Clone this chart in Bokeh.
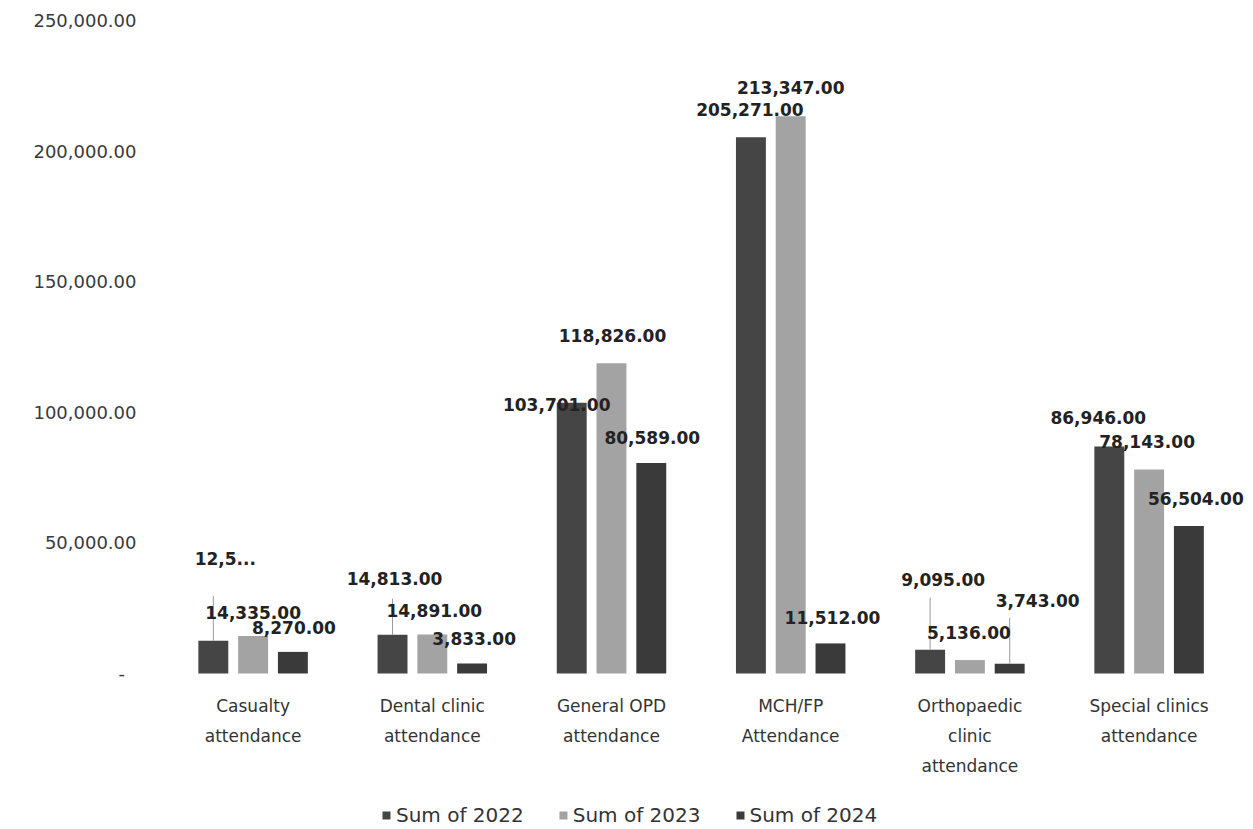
from bokeh.plotting import figure
from bokeh.models import ColumnDataSource, Range1d, Legend, LegendItem, FixedTicker, NumeralTickFormatter
from bokeh.core.properties import value
from bokeh.embed import file_html
from bokeh.resources import INLINE

# ---------------- data ----------------
categories = ["Casualty attendance", "Dental clinic attendance", "General OPD attendance",
              "MCH/FP Attendance", "Orthopaedic clinic attendance", "Special clinics attendance"]
category_label_lines = [["Casualty", "attendance"], ["Dental clinic", "attendance"],
                        ["General OPD", "attendance"], ["MCH/FP", "Attendance"],
                        ["Orthopaedic", "clinic", "attendance"], ["Special clinics", "attendance"]]
series_names = ["Sum of 2022", "Sum of 2023", "Sum of 2024"]
sum_2022 = [12500, 14813, 103701, 205271, 9095, 86946]
sum_2023 = [14335, 14891, 118826, 213347, 5136, 78143]
sum_2024 = [8270, 3833, 80589, 11512, 3743, 56504]
y_ticks = [0, 50000, 100000, 150000, 200000, 250000]
truncated_labels = {(0, 0): "12,5..."}   # (series, category) label shown truncated in the original

# ---------------- layout / style ----------------
Y_MAX = 250000
PLOT_H = 653            # pixels from 0 to Y_MAX
CAT_PX = 179.2          # pixels per category slot
FRAME_W, FRAME_H = 1090, 809
units_per_px = Y_MAX / PLOT_H
Y_MIN = -(FRAME_H - PLOT_H) * units_per_px
X_MAX = FRAME_W / CAT_PX
colors = ["#454545", "#a3a3a3", "#3a3a3a"]
dodges = [-0.222, 0.0, 0.222]
BAR_W = 0.167
# label offsets in pixels: (dx, up)
label_offsets = [
    [(12, 82), (2, 56), (-15, -2), (-1, 28), (13, 70), (-11, 29)],
    [(0, 24), (2, 24), (1, 28), (0, 29), (-1, 28), (-2, 28)],
    [(1, 24), (2, 25), (1, 26), (2, 26), (28, 63), (7, 27)],
]
# leader lines (pixels above bar top), 0 = none
leader_px = [
    [45, 36, 0, 0, 52, 0],
    [0, 0, 0, 0, 0, 0],
    [0, 0, 0, 0, 46, 0],
]
CAT_LINE_FIRST, CAT_LINE_STEP = 32, 30

cat_x = [i + 0.5 for i in range(len(categories))]

p = figure(x_range=Range1d(0, X_MAX), y_range=Range1d(Y_MIN, Y_MAX),
           frame_width=FRAME_W, frame_height=FRAME_H,
           min_border_left=163, min_border_right=0, min_border_top=20, min_border_bottom=0,
           output_backend="svg", toolbar_location=None)
p.outline_line_color = None
p.xgrid.grid_line_color = None
p.ygrid.grid_line_color = None
p.background_fill_color = "white"
p.border_fill_color = "white"
p.xaxis.visible = False

series = [sum_2022, sum_2023, sum_2024]
legend_items = []
sources = []
for s, (vals, name) in enumerate(zip(series, series_names)):
    texts = [truncated_labels.get((s, c), f"{v:,.2f}") for c, v in enumerate(vals)]
    src = ColumnDataSource(dict(
        x=[cx + dodges[s] for cx in cat_x], val=vals, txt=texts,
        xo=[o[0] for o in label_offsets[s]],
        yo=[-o[1] for o in label_offsets[s]],
    ))
    sources.append(src)
    r = p.vbar(x="x", top="val", width=BAR_W, source=src, fill_color=colors[s], line_color=None)
    legend_items.append(LegendItem(label=name, renderers=[r]))

for s, vals in enumerate(series):
    lx, lv, le = [], [], []
    for c, v in enumerate(vals):
        if leader_px[s][c] > 0:
            lx.append(cat_x[c] + dodges[s]); lv.append(v); le.append(v + leader_px[s][c] * units_per_px)
    if lx:
        lsrc = ColumnDataSource(dict(x=lx, y0=lv, y1=le))
        p.segment(x0="x", x1="x", y0="y0", y1="y1", source=lsrc, line_color="#9a9a9a", line_width=1)

for src in sources:
    p.text(x="x", y="val", text="txt", source=src,
           x_offset="xo", y_offset="yo", text_align="center", text_baseline="middle",
           text_font=value("DejaVu Sans"), text_font_style="bold", text_font_size="17px",
           text_color="#222222")

# category labels (one text per line)
cx_, ct, co, cz = [], [], [], []
for c, lines in enumerate(category_label_lines):
    for i, ln in enumerate(lines):
        cx_.append(cat_x[c]); ct.append(ln); co.append(CAT_LINE_FIRST + CAT_LINE_STEP * i); cz.append(0)
csrc = ColumnDataSource(dict(x=cx_, txt=ct, yo=co, y=cz))
p.text(x="x", y="y", text="txt", y_offset="yo", source=csrc, text_align="center",
       text_baseline="middle", text_font=value("DejaVu Sans"), text_font_size="17px",
       text_color="#333333")

# y axis
p.yaxis.ticker = FixedTicker(ticks=y_ticks)
p.yaxis.formatter = NumeralTickFormatter(format="0,0.00")
p.yaxis.major_label_overrides = {0: "-  "}
p.yaxis.axis_line_color = None
p.yaxis.major_tick_line_color = None
p.yaxis.minor_tick_line_color = None
p.yaxis.major_label_text_font = "DejaVu Sans"
p.yaxis.major_label_text_font_size = "18px"
p.yaxis.major_label_text_color = "#3a3a3a"
p.yaxis.major_label_standoff = 21

legend = Legend(items=legend_items, orientation="horizontal", location=(218, 2),
                label_text_font="DejaVu Sans", label_text_font_size="20px",
                label_text_color="#333333", glyph_width=10, glyph_height=10,
                label_standoff=5, spacing=34, border_line_color=None,
                background_fill_alpha=0, margin=0, padding=2)
p.add_layout(legend)

open("out.html", "w").write(file_html(p, INLINE))
